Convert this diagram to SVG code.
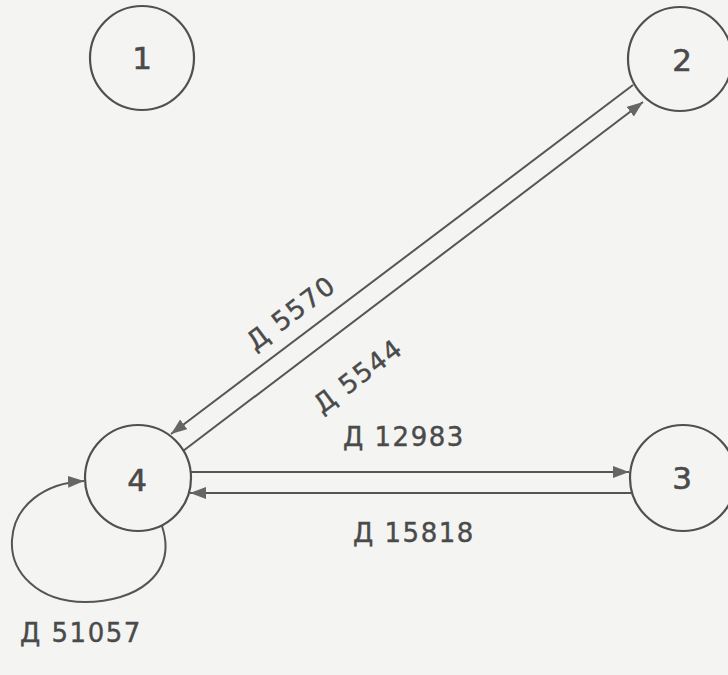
<svg xmlns="http://www.w3.org/2000/svg" width="728" height="675" viewBox="0 0 728 675">
<style>
.node circle{fill:none;stroke:#505050;stroke-width:2.2}
.node text{font-family:"DejaVu Sans",sans-serif;font-size:31px;fill:#4a4a4a;text-anchor:middle;stroke:#4a4a4a;stroke-width:0.6}
.edge{fill:none;stroke:#555;stroke-width:2}
.lbl{font-family:"DejaVu Sans",sans-serif;font-size:26px;fill:#4a4a4a;letter-spacing:1.5px;stroke:#4a4a4a;stroke-width:0.4}
</style>
<defs>
<marker id="ah" markerUnits="userSpaceOnUse" markerWidth="18" markerHeight="14" refX="16" refY="6" orient="auto">
<path d="M0,0 L16,6 L0,12 z" fill="#666"/>
</marker>
</defs>
<rect width="728" height="675" fill="#f4f4f2"/>
<g id="connectors">
<line class="edge" x1="633" y1="85" x2="171" y2="434" marker-end="url(#ah)"/>
<line class="edge" x1="183" y1="451" x2="643" y2="102" marker-end="url(#ah)"/>
<line class="edge" x1="191" y1="472" x2="629" y2="472" marker-end="url(#ah)"/>
<line class="edge" x1="631" y1="493" x2="190" y2="493" marker-end="url(#ah)"/>
<path class="edge" d="M162,526 C178,575 135,602 85,602 C38,602 10,572 12,540 C14,505 45,483 84,481" marker-end="url(#ah)"/>
<text class="lbl" transform="translate(291,313) rotate(-37)" x="0" y="9" text-anchor="middle">Д 5570</text>
<text class="lbl" transform="translate(358,376) rotate(-37)" x="0" y="9" text-anchor="middle">Д 5544</text>
<text class="lbl" x="343" y="446">Д 12983</text>
<text class="lbl" x="353" y="542">Д 15818</text>
<text class="lbl" x="20" y="642">Д 51057</text>
</g>
<g id="node1" class="node"><circle cx="142" cy="58" r="52"/><text x="142" y="69">1</text></g>
<g id="node2" class="node"><circle cx="680" cy="59" r="52"/><text x="682" y="71">2</text></g>
<g id="node3" class="node"><circle cx="683" cy="478" r="53"/><text x="682" y="489">3</text></g>
<g id="node4" class="node"><circle cx="138" cy="478" r="53"/><text x="137" y="491">4</text></g>
</svg>
